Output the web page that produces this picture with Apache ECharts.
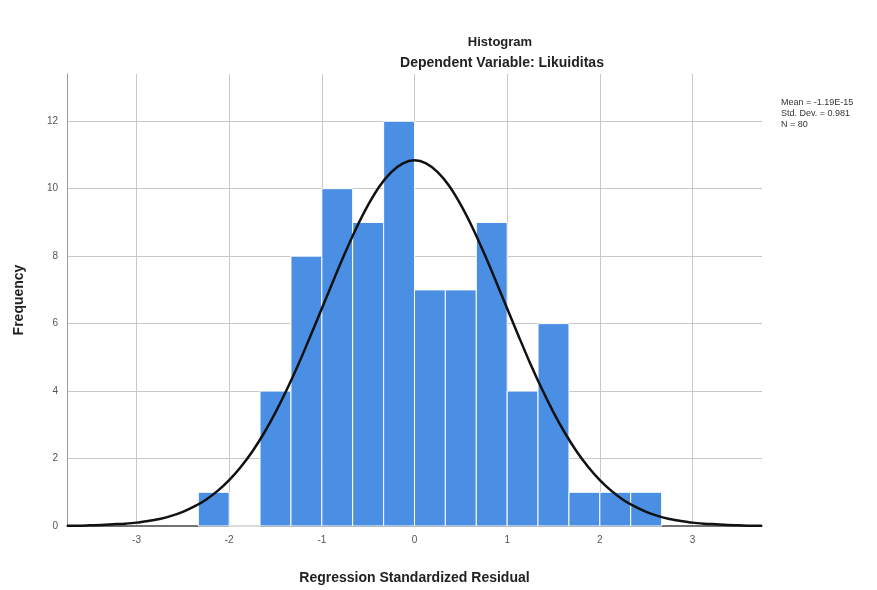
<!DOCTYPE html>
<html>
<head>
<meta charset="utf-8">
<script src="https://cdn.jsdelivr.net/npm/echarts@6/dist/echarts.min.js"></script>
<style>
html,body{margin:0;padding:0;background:#fff;}
#chart{width:877px;height:590px;}
</style>
</head>
<body>
<div id="chart"></div>
<script>
// Histogram bins (lower edge, upper edge) and frequencies
var binLow = [-2.333, -2.0, -1.667, -1.333, -1.0, -0.667, -0.333, 0.0, 0.333, 0.667, 1.0, 1.333, 1.667, 2.0, 2.333];
var binHigh = [-2.0, -1.667, -1.333, -1.0, -0.667, -0.333, 0.0, 0.333, 0.667, 1.0, 1.333, 1.667, 2.0, 2.333, 2.667];
var counts = [1, 0, 4, 8, 10, 9, 12, 7, 7, 9, 4, 6, 1, 1, 1];

// Normal curve points
var curveX = [-3.75, -3.625, -3.5, -3.375, -3.25, -3.125, -3.0, -2.875, -2.75, -2.625, -2.5, -2.375, -2.25, -2.125, -2.0, -1.875, -1.75, -1.625, -1.5, -1.375, -1.25, -1.125, -1.0, -0.875, -0.75, -0.625, -0.5, -0.375, -0.25, -0.125, 0.0, 0.125, 0.25, 0.375, 0.5, 0.625, 0.75, 0.875, 1.0, 1.125, 1.25, 1.375, 1.5, 1.625, 1.75, 1.875, 2.0, 2.125, 2.25, 2.375, 2.5, 2.625, 2.75, 2.875, 3.0, 3.125, 3.25, 3.375, 3.5, 3.625, 3.75];
var curveY = [0.01, 0.01, 0.02, 0.03, 0.05, 0.07, 0.10, 0.15, 0.21, 0.30, 0.42, 0.58, 0.78, 1.04, 1.36, 1.75, 2.21, 2.75, 3.37, 4.06, 4.81, 5.62, 6.45, 7.28, 8.09, 8.85, 9.52, 10.08, 10.49, 10.75, 10.84, 10.75, 10.49, 10.08, 9.52, 8.85, 8.09, 7.28, 6.45, 5.62, 4.81, 4.06, 3.37, 2.75, 2.21, 1.75, 1.36, 1.04, 0.78, 0.58, 0.42, 0.30, 0.21, 0.15, 0.10, 0.07, 0.05, 0.03, 0.02, 0.01, 0.01];

var statLines = ['Mean = -1.19E-15', 'Std. Dev. = 0.981', 'N = 80'];
var titleText = 'Histogram';
var subtitleText = 'Dependent Variable: Likuiditas';
var xName = 'Regression Standardized Residual';
var yName = 'Frequency';

var FONT = '"Liberation Sans", Arial, sans-serif';

var histData = binLow.map(function (lo, i) { return [lo, binHigh[i], counts[i]]; });
var curveData = curveX.map(function (x, i) { return [x, curveY[i]]; });

var chart = echarts.init(document.getElementById('chart'), null, {renderer: 'canvas'});

var option = {
  backgroundColor: '#ffffff',
  animation: false,
  title: [
    {text: titleText, left: 495, top: 31, textAlign: 'center',
     textStyle: {fontFamily: FONT, fontSize: 13, fontWeight: 'bold', color: '#222'}},
    {text: subtitleText, left: 497, top: 51, textAlign: 'center',
     textStyle: {fontFamily: FONT, fontSize: 14, fontWeight: 'bold', color: '#222'}}
  ],
  grid: {left: 67, right: 115, top: 74, bottom: 63, containLabel: false},
  xAxis: {
    type: 'value', min: -3.75, max: 3.75, splitNumber: 7,
    name: xName, nameLocation: 'middle', nameGap: 45,
    nameTextStyle: {fontFamily: FONT, fontSize: 14, fontWeight: 'bold', color: '#222'},
    axisLine: {show: true, lineStyle: {color: '#444', width: 1.5}},
    axisTick: {show: false},
    axisLabel: {showMinLabel: false, showMaxLabel: false, margin: 9,
      fontFamily: FONT, fontSize: 10, color: '#555'},
    splitLine: {show: true, showMinLine: false, showMaxLine: false,
      lineStyle: {color: '#c8c8c8', width: 1}}
  },
  yAxis: {
    type: 'value', min: 0, max: 13.4, splitNumber: 7,
    name: yName, nameLocation: 'middle', nameGap: 41, nameRotate: 90,
    nameTextStyle: {fontFamily: FONT, fontSize: 14, fontWeight: 'bold', color: '#222'},
    axisLine: {show: true, onZero: false, lineStyle: {color: '#999', width: 1}},
    axisTick: {show: false},
    axisLabel: {showMaxLabel: false, margin: 9,
      fontFamily: FONT, fontSize: 10, color: '#555'},
    splitLine: {show: true, showMinLine: false, showMaxLine: false,
      lineStyle: {color: '#c8c8c8', width: 1}}
  },
  graphic: statLines.map(function (t, i) {
    return {type: 'text', left: 781, top: 98 + i * 11, z: 10,
      style: {text: t, font: '9px ' + FONT, fill: '#333'}};
  }),
  series: [
    {
      type: 'custom',
      data: histData,
      encode: {x: [0, 1], y: 2},
      z: 2,
      renderItem: function (params, api) {
        var p0 = api.coord([api.value(0), 0]);
        var p1 = api.coord([api.value(1), api.value(2)]);
        return {
          type: 'rect',
          shape: {x: p0[0], y: p1[1], width: p1[0] - p0[0], height: p0[1] - p1[1]},
          style: {fill: '#4a8fe3', stroke: '#ffffff', lineWidth: 1}
        };
      }
    },
    {
      type: 'line',
      data: curveData,
      smooth: 0.3,
      showSymbol: false,
      symbol: 'none',
      z: 5,
      lineStyle: {color: '#111', width: 2.5}
    }
  ]
};
chart.setOption(option);
</script>
</body>
</html>
